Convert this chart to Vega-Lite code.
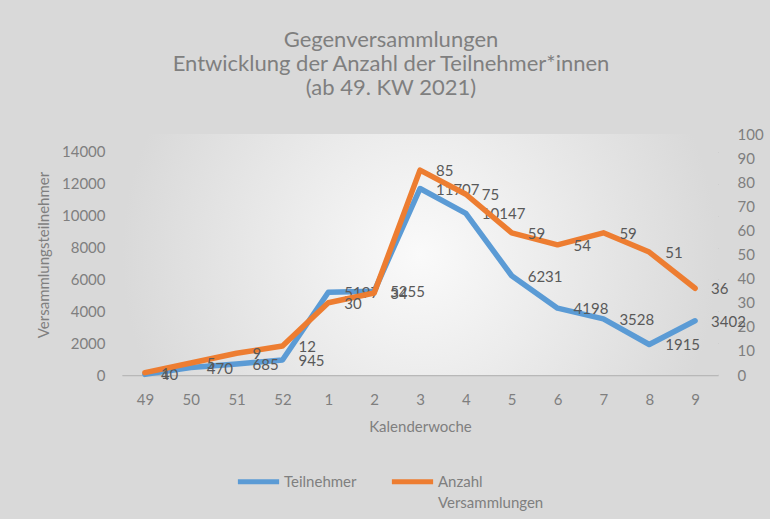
{
  "$schema": "https://vega.github.io/schema/vega-lite/v6.json",
  "width": 596,
  "height": 241,
  "autosize": {"type": "none"},
  "padding": {"left": 122, "top": 134, "right": 52, "bottom": 144},
  "background": "#d9d9d9",
  "title": {
    "text": ["Gegenversammlungen", "Entwicklung der Anzahl der Teilnehmer*innen", "(ab 49. KW 2021)"],
    "anchor": "middle",
    "dx": -29,
    "font": "Lato",
    "fontSize": 22,
    "fontWeight": "normal",
    "color": "#7f7f7f",
    "lineHeight": 24,
    "offset": 27
  },
  "data": {
    "values": [
      {"KW": "49", "Teilnehmer": 40, "Anzahl": 1},
      {"KW": "50", "Teilnehmer": 470, "Anzahl": 5},
      {"KW": "51", "Teilnehmer": 685, "Anzahl": 9},
      {"KW": "52", "Teilnehmer": 945, "Anzahl": 12},
      {"KW": "1", "Teilnehmer": 5197, "Anzahl": 30},
      {"KW": "2", "Teilnehmer": 5255, "Anzahl": 34},
      {"KW": "3", "Teilnehmer": 11707, "Anzahl": 85},
      {"KW": "4", "Teilnehmer": 10147, "Anzahl": 75},
      {"KW": "5", "Teilnehmer": 6231, "Anzahl": 59},
      {"KW": "6", "Teilnehmer": 4198, "Anzahl": 54},
      {"KW": "7", "Teilnehmer": 3528, "Anzahl": 59},
      {"KW": "8", "Teilnehmer": 1915, "Anzahl": 51},
      {"KW": "9", "Teilnehmer": 3402, "Anzahl": 36}
    ]
  },
  "config": {
    "view": {"stroke": null},
    "axis": {
      "labelFont": "Lato",
      "titleFont": "Lato",
      "labelColor": "#7f7f7f",
      "titleColor": "#7f7f7f",
      "labelFontSize": 15,
      "titleFontSize": 15,
      "titleFontWeight": "normal"
    }
  },
  "layer": [
    {
      "data": {"values": [{"bg": 1}]},
      "mark": {
        "type": "rect",
        "fill": {
          "gradient": "radial",
          "x1": 0.5, "y1": 0.5, "x2": 0.5, "y2": 0.5, "r1": 0, "r2": 0.5,
          "stops": [
            {"offset": 0, "color": "#fafafa"},
            {"offset": 1, "color": "#d9d9d9"}
          ]
        }
      },
      "encoding": {}
    },
    {
      "layer": [
        {
          "mark": {"type": "line", "strokeWidth": 5.5, "strokeJoin": "round", "strokeCap": "round"},
          "encoding": {
            "color": {
              "datum": "Teilnehmer",
              "type": "nominal",
              "scale": {"domain": ["Teilnehmer", "Anzahl Versammlungen"], "range": ["#5B9BD5", "#ED7D31"]},
              "legend": {
                "orient": "none",
                "legendX": 113,
                "legendY": 324,
                "direction": "horizontal",
                "title": null,
                "symbolType": "stroke",
                "symbolSize": 1700,
                "symbolStrokeWidth": 5,
                "labelFont": "Lato",
                "labelFontSize": 15,
                "labelColor": "#7f7f7f",
                "labelOffset": 2,
                "columnPadding": 24,
                "labelLimit": 300,
                "labelBaseline": "top",
                "labelExpr": "datum.label == 'Anzahl Versammlungen' ? ['Anzahl', 'Versammlungen'] : [datum.label, '']",
                "encode": {
                  "labels": {"update": {"dy": {"value": -7}, "lineHeight": {"value": 21}}}
                }
              }
            }
          }
        },
        {
          "mark": {"type": "text", "align": "left", "baseline": "middle", "dx": 16, "dy": 1, "font": "Lato", "fontSize": 15, "color": "#595959"},
          "encoding": {"text": {"field": "Teilnehmer", "type": "quantitative", "format": "d"}}
        }
      ],
      "encoding": {
        "x": {
          "field": "KW",
          "type": "ordinal",
          "sort": null,
          "scale": {"type": "point", "padding": 0.5},
          "axis": {
            "title": "Kalenderwoche",
            "labelAngle": 0,
            "labelPadding": 17,
            "titlePadding": 12,
            "ticks": false,
            "domain": true,
            "domainColor": "#b8b8b8",
            "domainWidth": 1.5,
            "grid": false
          }
        },
        "y": {
          "field": "Teilnehmer",
          "type": "quantitative",
          "scale": {"domain": [0, 15130], "nice": false},
          "axis": {
            "title": "Versammlungsteilnehmer",
            "values": [0, 2000, 4000, 6000, 8000, 10000, 12000, 14000],
            "format": "d",
            "grid": true,
            "gridColor": "#c6c6c6",
            "gridWidth": 1.2,
            "domain": false,
            "ticks": false,
            "labelPadding": 17,
            "titlePadding": 10
          }
        }
      }
    },
    {
      "layer": [
        {
          "mark": {"type": "line", "strokeWidth": 5.5, "strokeJoin": "round", "strokeCap": "round"},
          "encoding": {"color": {"datum": "Anzahl Versammlungen", "type": "nominal"}}
        },
        {
          "mark": {"type": "text", "align": "left", "baseline": "middle", "dx": 16, "dy": 1, "font": "Lato", "fontSize": 15, "color": "#595959"},
          "encoding": {"text": {"field": "Anzahl", "type": "quantitative", "format": "d"}}
        }
      ],
      "encoding": {
        "x": {"field": "KW", "type": "ordinal", "sort": null},
        "y": {
          "field": "Anzahl",
          "type": "quantitative",
          "scale": {"domain": [0, 100], "nice": false},
          "axis": {
            "orient": "right",
            "title": null,
            "values": [0, 10, 20, 30, 40, 50, 60, 70, 80, 90, 100],
            "grid": false,
            "domain": false,
            "ticks": false,
            "labelPadding": 19
          }
        }
      }
    }
  ],
  "resolve": {"scale": {"y": "independent"}}
}
